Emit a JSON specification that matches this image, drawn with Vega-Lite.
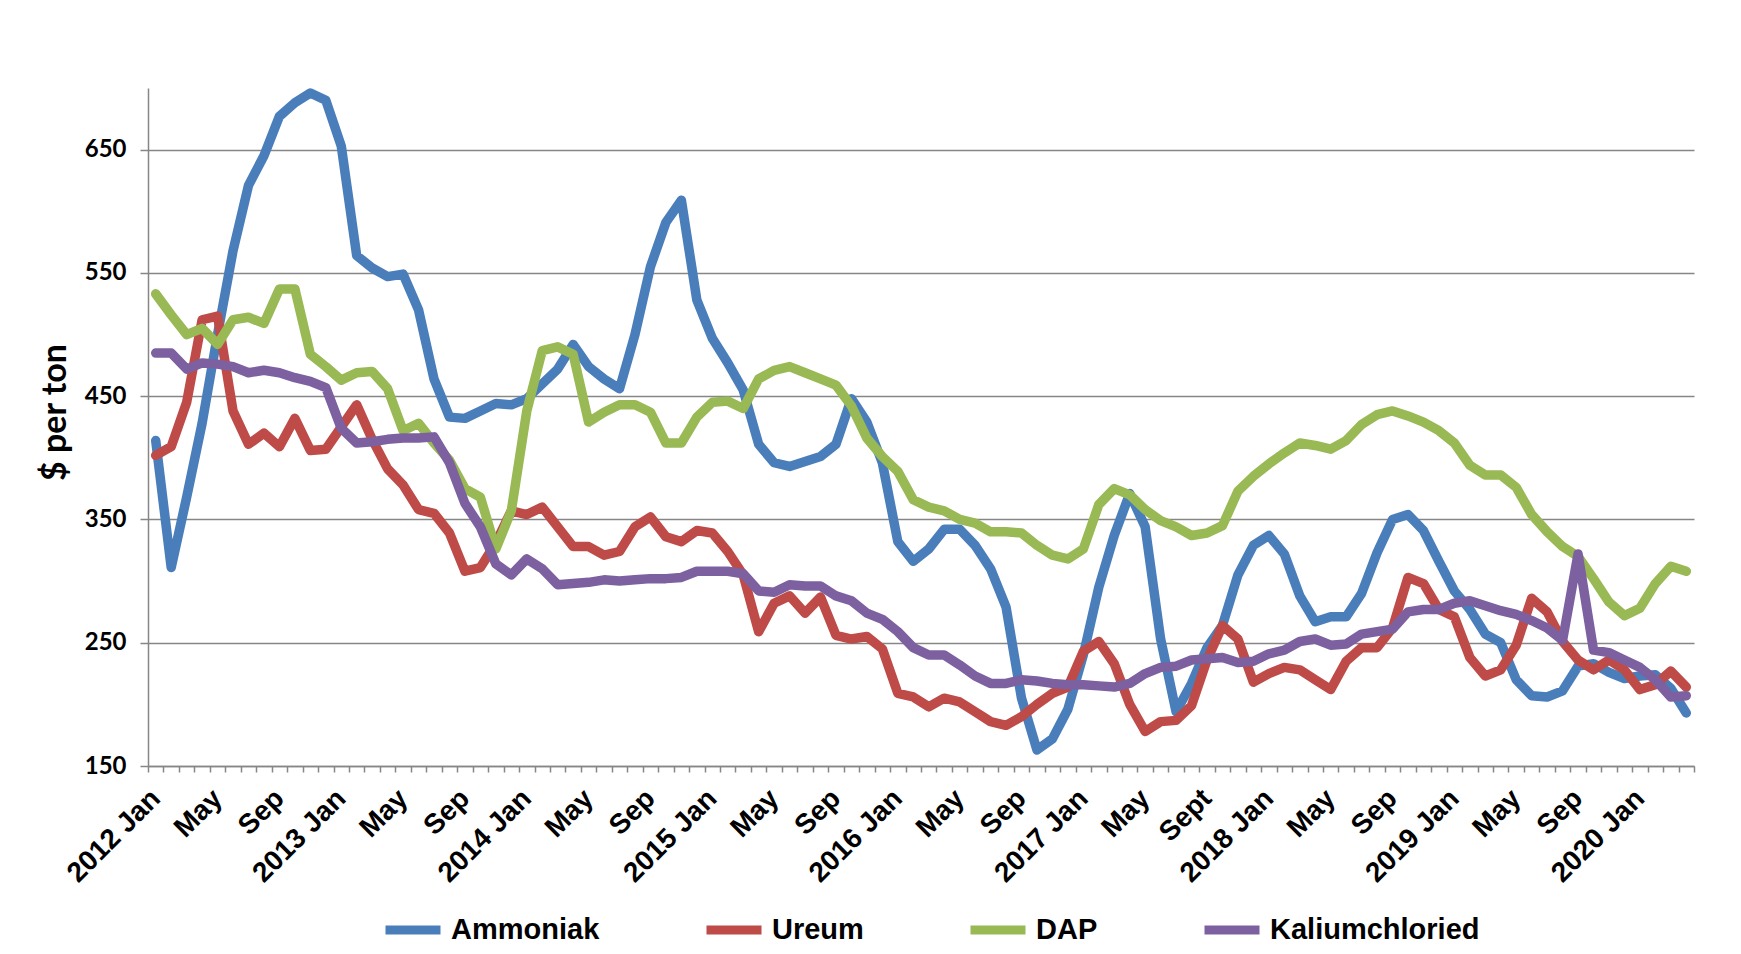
{
"$schema":"https://vega.github.io/schema/vega-lite/v6.json",
"width":1546,"height":678,
"autosize":{"type":"none"},
"padding":{"left":148,"top":88,"right":47,"bottom":188},
"background":"white",
"data":{"values":[
{"month":0,"product":"Ammoniak","price":414},{"month":1,"product":"Ammoniak","price":311},{"month":2,"product":"Ammoniak","price":368},{"month":3,"product":"Ammoniak","price":428},{"month":4,"product":"Ammoniak","price":500},{"month":5,"product":"Ammoniak","price":568},{"month":6,"product":"Ammoniak","price":621},{"month":7,"product":"Ammoniak","price":645},{"month":8,"product":"Ammoniak","price":677},{"month":9,"product":"Ammoniak","price":688},
{"month":10,"product":"Ammoniak","price":696},{"month":11,"product":"Ammoniak","price":690},{"month":12,"product":"Ammoniak","price":653},{"month":13,"product":"Ammoniak","price":564},{"month":14,"product":"Ammoniak","price":554},{"month":15,"product":"Ammoniak","price":547},{"month":16,"product":"Ammoniak","price":549},{"month":17,"product":"Ammoniak","price":520},{"month":18,"product":"Ammoniak","price":464},{"month":19,"product":"Ammoniak","price":433},
{"month":20,"product":"Ammoniak","price":432},{"month":21,"product":"Ammoniak","price":438},{"month":22,"product":"Ammoniak","price":444},{"month":23,"product":"Ammoniak","price":443},{"month":24,"product":"Ammoniak","price":448},{"month":25,"product":"Ammoniak","price":460},{"month":26,"product":"Ammoniak","price":472},{"month":27,"product":"Ammoniak","price":492},{"month":28,"product":"Ammoniak","price":474},{"month":29,"product":"Ammoniak","price":464},
{"month":30,"product":"Ammoniak","price":456},{"month":31,"product":"Ammoniak","price":500},{"month":32,"product":"Ammoniak","price":555},{"month":33,"product":"Ammoniak","price":591},{"month":34,"product":"Ammoniak","price":609},{"month":35,"product":"Ammoniak","price":528},{"month":36,"product":"Ammoniak","price":497},{"month":37,"product":"Ammoniak","price":477},{"month":38,"product":"Ammoniak","price":455},{"month":39,"product":"Ammoniak","price":411},
{"month":40,"product":"Ammoniak","price":396},{"month":41,"product":"Ammoniak","price":393},{"month":42,"product":"Ammoniak","price":397},{"month":43,"product":"Ammoniak","price":401},{"month":44,"product":"Ammoniak","price":411},{"month":45,"product":"Ammoniak","price":448},{"month":46,"product":"Ammoniak","price":429},{"month":47,"product":"Ammoniak","price":396},{"month":48,"product":"Ammoniak","price":332},{"month":49,"product":"Ammoniak","price":316},
{"month":50,"product":"Ammoniak","price":326},{"month":51,"product":"Ammoniak","price":342},{"month":52,"product":"Ammoniak","price":342},{"month":53,"product":"Ammoniak","price":329},{"month":54,"product":"Ammoniak","price":310},{"month":55,"product":"Ammoniak","price":279},{"month":56,"product":"Ammoniak","price":205},{"month":57,"product":"Ammoniak","price":163},{"month":58,"product":"Ammoniak","price":172},{"month":59,"product":"Ammoniak","price":196},
{"month":60,"product":"Ammoniak","price":240},{"month":61,"product":"Ammoniak","price":295},{"month":62,"product":"Ammoniak","price":337},{"month":63,"product":"Ammoniak","price":371},{"month":64,"product":"Ammoniak","price":344},{"month":65,"product":"Ammoniak","price":253},{"month":66,"product":"Ammoniak","price":194},{"month":67,"product":"Ammoniak","price":217},{"month":68,"product":"Ammoniak","price":246},{"month":69,"product":"Ammoniak","price":264},
{"month":70,"product":"Ammoniak","price":305},{"month":71,"product":"Ammoniak","price":329},{"month":72,"product":"Ammoniak","price":337},{"month":73,"product":"Ammoniak","price":322},{"month":74,"product":"Ammoniak","price":288},{"month":75,"product":"Ammoniak","price":267},{"month":76,"product":"Ammoniak","price":271},{"month":77,"product":"Ammoniak","price":271},{"month":78,"product":"Ammoniak","price":290},{"month":79,"product":"Ammoniak","price":323},
{"month":80,"product":"Ammoniak","price":350},{"month":81,"product":"Ammoniak","price":354},{"month":82,"product":"Ammoniak","price":341},{"month":83,"product":"Ammoniak","price":316},{"month":84,"product":"Ammoniak","price":292},{"month":85,"product":"Ammoniak","price":277},{"month":86,"product":"Ammoniak","price":257},{"month":87,"product":"Ammoniak","price":250},{"month":88,"product":"Ammoniak","price":220},{"month":89,"product":"Ammoniak","price":207},
{"month":90,"product":"Ammoniak","price":206},{"month":91,"product":"Ammoniak","price":211},{"month":92,"product":"Ammoniak","price":231},{"month":93,"product":"Ammoniak","price":233},{"month":94,"product":"Ammoniak","price":226},{"month":95,"product":"Ammoniak","price":221},{"month":96,"product":"Ammoniak","price":223},{"month":97,"product":"Ammoniak","price":224},{"month":98,"product":"Ammoniak","price":213},{"month":99,"product":"Ammoniak","price":193},
{"month":0,"product":"Ureum","price":402},{"month":1,"product":"Ureum","price":409},{"month":2,"product":"Ureum","price":445},{"month":3,"product":"Ureum","price":512},{"month":4,"product":"Ureum","price":515},{"month":5,"product":"Ureum","price":438},{"month":6,"product":"Ureum","price":411},{"month":7,"product":"Ureum","price":420},{"month":8,"product":"Ureum","price":409},{"month":9,"product":"Ureum","price":432},
{"month":10,"product":"Ureum","price":406},{"month":11,"product":"Ureum","price":407},{"month":12,"product":"Ureum","price":425},{"month":13,"product":"Ureum","price":443},{"month":14,"product":"Ureum","price":415},{"month":15,"product":"Ureum","price":391},{"month":16,"product":"Ureum","price":378},{"month":17,"product":"Ureum","price":358},{"month":18,"product":"Ureum","price":355},{"month":19,"product":"Ureum","price":339},
{"month":20,"product":"Ureum","price":308},{"month":21,"product":"Ureum","price":311},{"month":22,"product":"Ureum","price":331},{"month":23,"product":"Ureum","price":357},{"month":24,"product":"Ureum","price":354},{"month":25,"product":"Ureum","price":360},{"month":26,"product":"Ureum","price":344},{"month":27,"product":"Ureum","price":328},{"month":28,"product":"Ureum","price":328},{"month":29,"product":"Ureum","price":321},
{"month":30,"product":"Ureum","price":324},{"month":31,"product":"Ureum","price":344},{"month":32,"product":"Ureum","price":352},{"month":33,"product":"Ureum","price":336},{"month":34,"product":"Ureum","price":332},{"month":35,"product":"Ureum","price":341},{"month":36,"product":"Ureum","price":339},{"month":37,"product":"Ureum","price":324},{"month":38,"product":"Ureum","price":305},{"month":39,"product":"Ureum","price":259},
{"month":40,"product":"Ureum","price":282},{"month":41,"product":"Ureum","price":288},{"month":42,"product":"Ureum","price":274},{"month":43,"product":"Ureum","price":287},{"month":44,"product":"Ureum","price":256},{"month":45,"product":"Ureum","price":253},{"month":46,"product":"Ureum","price":255},{"month":47,"product":"Ureum","price":245},{"month":48,"product":"Ureum","price":209},{"month":49,"product":"Ureum","price":206},
{"month":50,"product":"Ureum","price":198},{"month":51,"product":"Ureum","price":205},{"month":52,"product":"Ureum","price":202},{"month":53,"product":"Ureum","price":194},{"month":54,"product":"Ureum","price":186},{"month":55,"product":"Ureum","price":183},{"month":56,"product":"Ureum","price":190},{"month":57,"product":"Ureum","price":200},{"month":58,"product":"Ureum","price":209},{"month":59,"product":"Ureum","price":214},
{"month":60,"product":"Ureum","price":243},{"month":61,"product":"Ureum","price":251},{"month":62,"product":"Ureum","price":233},{"month":63,"product":"Ureum","price":200},{"month":64,"product":"Ureum","price":178},{"month":65,"product":"Ureum","price":186},{"month":66,"product":"Ureum","price":187},{"month":67,"product":"Ureum","price":199},{"month":68,"product":"Ureum","price":236},{"month":69,"product":"Ureum","price":264},
{"month":70,"product":"Ureum","price":253},{"month":71,"product":"Ureum","price":218},{"month":72,"product":"Ureum","price":225},{"month":73,"product":"Ureum","price":230},{"month":74,"product":"Ureum","price":228},{"month":75,"product":"Ureum","price":220},{"month":76,"product":"Ureum","price":212},{"month":77,"product":"Ureum","price":235},{"month":78,"product":"Ureum","price":246},{"month":79,"product":"Ureum","price":246},
{"month":80,"product":"Ureum","price":262},{"month":81,"product":"Ureum","price":303},{"month":82,"product":"Ureum","price":298},{"month":83,"product":"Ureum","price":277},{"month":84,"product":"Ureum","price":271},{"month":85,"product":"Ureum","price":238},{"month":86,"product":"Ureum","price":223},{"month":87,"product":"Ureum","price":228},{"month":88,"product":"Ureum","price":248},{"month":89,"product":"Ureum","price":286},
{"month":90,"product":"Ureum","price":275},{"month":91,"product":"Ureum","price":251},{"month":92,"product":"Ureum","price":236},{"month":93,"product":"Ureum","price":228},{"month":94,"product":"Ureum","price":236},{"month":95,"product":"Ureum","price":228},{"month":96,"product":"Ureum","price":212},{"month":97,"product":"Ureum","price":216},{"month":98,"product":"Ureum","price":227},{"month":99,"product":"Ureum","price":214},
{"month":0,"product":"DAP","price":533},{"month":1,"product":"DAP","price":516},{"month":2,"product":"DAP","price":500},{"month":3,"product":"DAP","price":505},{"month":4,"product":"DAP","price":492},{"month":5,"product":"DAP","price":512},{"month":6,"product":"DAP","price":514},{"month":7,"product":"DAP","price":509},{"month":8,"product":"DAP","price":537},{"month":9,"product":"DAP","price":537},
{"month":10,"product":"DAP","price":484},{"month":11,"product":"DAP","price":474},{"month":12,"product":"DAP","price":463},{"month":13,"product":"DAP","price":469},{"month":14,"product":"DAP","price":470},{"month":15,"product":"DAP","price":456},{"month":16,"product":"DAP","price":422},{"month":17,"product":"DAP","price":428},{"month":18,"product":"DAP","price":412},{"month":19,"product":"DAP","price":398},
{"month":20,"product":"DAP","price":375},{"month":21,"product":"DAP","price":368},{"month":22,"product":"DAP","price":326},{"month":23,"product":"DAP","price":357},{"month":24,"product":"DAP","price":438},{"month":25,"product":"DAP","price":487},{"month":26,"product":"DAP","price":490},{"month":27,"product":"DAP","price":484},{"month":28,"product":"DAP","price":429},{"month":29,"product":"DAP","price":437},
{"month":30,"product":"DAP","price":443},{"month":31,"product":"DAP","price":443},{"month":32,"product":"DAP","price":437},{"month":33,"product":"DAP","price":412},{"month":34,"product":"DAP","price":412},{"month":35,"product":"DAP","price":433},{"month":36,"product":"DAP","price":445},{"month":37,"product":"DAP","price":446},{"month":38,"product":"DAP","price":440},{"month":39,"product":"DAP","price":464},
{"month":40,"product":"DAP","price":471},{"month":41,"product":"DAP","price":474},{"month":42,"product":"DAP","price":469},{"month":43,"product":"DAP","price":464},{"month":44,"product":"DAP","price":459},{"month":45,"product":"DAP","price":442},{"month":46,"product":"DAP","price":416},{"month":47,"product":"DAP","price":401},{"month":48,"product":"DAP","price":389},{"month":49,"product":"DAP","price":366},
{"month":50,"product":"DAP","price":360},{"month":51,"product":"DAP","price":357},{"month":52,"product":"DAP","price":350},{"month":53,"product":"DAP","price":347},{"month":54,"product":"DAP","price":340},{"month":55,"product":"DAP","price":340},{"month":56,"product":"DAP","price":339},{"month":57,"product":"DAP","price":329},{"month":58,"product":"DAP","price":321},{"month":59,"product":"DAP","price":318},
{"month":60,"product":"DAP","price":326},{"month":61,"product":"DAP","price":362},{"month":62,"product":"DAP","price":375},{"month":63,"product":"DAP","price":370},{"month":64,"product":"DAP","price":358},{"month":65,"product":"DAP","price":349},{"month":66,"product":"DAP","price":344},{"month":67,"product":"DAP","price":337},{"month":68,"product":"DAP","price":339},{"month":69,"product":"DAP","price":345},
{"month":70,"product":"DAP","price":373},{"month":71,"product":"DAP","price":385},{"month":72,"product":"DAP","price":395},{"month":73,"product":"DAP","price":404},{"month":74,"product":"DAP","price":412},{"month":75,"product":"DAP","price":410},{"month":76,"product":"DAP","price":407},{"month":77,"product":"DAP","price":414},{"month":78,"product":"DAP","price":427},{"month":79,"product":"DAP","price":435},
{"month":80,"product":"DAP","price":438},{"month":81,"product":"DAP","price":434},{"month":82,"product":"DAP","price":429},{"month":83,"product":"DAP","price":422},{"month":84,"product":"DAP","price":412},{"month":85,"product":"DAP","price":394},{"month":86,"product":"DAP","price":386},{"month":87,"product":"DAP","price":386},{"month":88,"product":"DAP","price":376},{"month":89,"product":"DAP","price":354},
{"month":90,"product":"DAP","price":340},{"month":91,"product":"DAP","price":328},{"month":92,"product":"DAP","price":320},{"month":93,"product":"DAP","price":302},{"month":94,"product":"DAP","price":283},{"month":95,"product":"DAP","price":272},{"month":96,"product":"DAP","price":278},{"month":97,"product":"DAP","price":298},{"month":98,"product":"DAP","price":312},{"month":99,"product":"DAP","price":308},
{"month":0,"product":"Kaliumchloried","price":485},{"month":1,"product":"Kaliumchloried","price":485},{"month":2,"product":"Kaliumchloried","price":472},{"month":3,"product":"Kaliumchloried","price":477},{"month":4,"product":"Kaliumchloried","price":476},{"month":5,"product":"Kaliumchloried","price":474},{"month":6,"product":"Kaliumchloried","price":469},{"month":7,"product":"Kaliumchloried","price":471},{"month":8,"product":"Kaliumchloried","price":469},{"month":9,"product":"Kaliumchloried","price":465},
{"month":10,"product":"Kaliumchloried","price":462},{"month":11,"product":"Kaliumchloried","price":457},{"month":12,"product":"Kaliumchloried","price":424},{"month":13,"product":"Kaliumchloried","price":412},{"month":14,"product":"Kaliumchloried","price":413},{"month":15,"product":"Kaliumchloried","price":415},{"month":16,"product":"Kaliumchloried","price":416},{"month":17,"product":"Kaliumchloried","price":416},{"month":18,"product":"Kaliumchloried","price":417},{"month":19,"product":"Kaliumchloried","price":396},
{"month":20,"product":"Kaliumchloried","price":363},{"month":21,"product":"Kaliumchloried","price":344},{"month":22,"product":"Kaliumchloried","price":314},{"month":23,"product":"Kaliumchloried","price":305},{"month":24,"product":"Kaliumchloried","price":318},{"month":25,"product":"Kaliumchloried","price":310},{"month":26,"product":"Kaliumchloried","price":297},{"month":27,"product":"Kaliumchloried","price":298},{"month":28,"product":"Kaliumchloried","price":299},{"month":29,"product":"Kaliumchloried","price":301},
{"month":30,"product":"Kaliumchloried","price":300},{"month":31,"product":"Kaliumchloried","price":301},{"month":32,"product":"Kaliumchloried","price":302},{"month":33,"product":"Kaliumchloried","price":302},{"month":34,"product":"Kaliumchloried","price":303},{"month":35,"product":"Kaliumchloried","price":308},{"month":36,"product":"Kaliumchloried","price":308},{"month":37,"product":"Kaliumchloried","price":308},{"month":38,"product":"Kaliumchloried","price":306},{"month":39,"product":"Kaliumchloried","price":292},
{"month":40,"product":"Kaliumchloried","price":291},{"month":41,"product":"Kaliumchloried","price":297},{"month":42,"product":"Kaliumchloried","price":296},{"month":43,"product":"Kaliumchloried","price":296},{"month":44,"product":"Kaliumchloried","price":288},{"month":45,"product":"Kaliumchloried","price":284},{"month":46,"product":"Kaliumchloried","price":274},{"month":47,"product":"Kaliumchloried","price":269},{"month":48,"product":"Kaliumchloried","price":259},{"month":49,"product":"Kaliumchloried","price":246},
{"month":50,"product":"Kaliumchloried","price":240},{"month":51,"product":"Kaliumchloried","price":240},{"month":52,"product":"Kaliumchloried","price":232},{"month":53,"product":"Kaliumchloried","price":223},{"month":54,"product":"Kaliumchloried","price":217},{"month":55,"product":"Kaliumchloried","price":217},{"month":56,"product":"Kaliumchloried","price":220},{"month":57,"product":"Kaliumchloried","price":219},{"month":58,"product":"Kaliumchloried","price":217},{"month":59,"product":"Kaliumchloried","price":216},
{"month":60,"product":"Kaliumchloried","price":216},{"month":61,"product":"Kaliumchloried","price":215},{"month":62,"product":"Kaliumchloried","price":214},{"month":63,"product":"Kaliumchloried","price":217},{"month":64,"product":"Kaliumchloried","price":225},{"month":65,"product":"Kaliumchloried","price":230},{"month":66,"product":"Kaliumchloried","price":231},{"month":67,"product":"Kaliumchloried","price":236},{"month":68,"product":"Kaliumchloried","price":237},{"month":69,"product":"Kaliumchloried","price":238},
{"month":70,"product":"Kaliumchloried","price":234},{"month":71,"product":"Kaliumchloried","price":235},{"month":72,"product":"Kaliumchloried","price":241},{"month":73,"product":"Kaliumchloried","price":244},{"month":74,"product":"Kaliumchloried","price":251},{"month":75,"product":"Kaliumchloried","price":253},{"month":76,"product":"Kaliumchloried","price":248},{"month":77,"product":"Kaliumchloried","price":249},{"month":78,"product":"Kaliumchloried","price":257},{"month":79,"product":"Kaliumchloried","price":259},
{"month":80,"product":"Kaliumchloried","price":261},{"month":81,"product":"Kaliumchloried","price":275},{"month":82,"product":"Kaliumchloried","price":277},{"month":83,"product":"Kaliumchloried","price":277},{"month":84,"product":"Kaliumchloried","price":282},{"month":85,"product":"Kaliumchloried","price":284},{"month":86,"product":"Kaliumchloried","price":280},{"month":87,"product":"Kaliumchloried","price":276},{"month":88,"product":"Kaliumchloried","price":273},{"month":89,"product":"Kaliumchloried","price":268},
{"month":90,"product":"Kaliumchloried","price":262},{"month":91,"product":"Kaliumchloried","price":252},{"month":92,"product":"Kaliumchloried","price":322},{"month":93,"product":"Kaliumchloried","price":244},{"month":94,"product":"Kaliumchloried","price":242},{"month":95,"product":"Kaliumchloried","price":236},{"month":96,"product":"Kaliumchloried","price":230},{"month":97,"product":"Kaliumchloried","price":220},{"month":98,"product":"Kaliumchloried","price":206},{"month":99,"product":"Kaliumchloried","price":207}
]},
"mark":{"type":"line","strokeWidth":9.5,"strokeJoin":"round","strokeCap":"round"},
"encoding":{
"x":{"field":"month","type":"ordinal","bandPosition":0.5,
 "scale":{"type":"band","paddingInner":0,"paddingOuter":0},
 "axis":{"title":null,"tickBand":"extent","grid":false,
  "labelExpr":"datum.value % 4 == 0 ? ['2012 Jan','May','Sep','2013 Jan','May','Sep','2014 Jan','May','Sep','2015 Jan','May','Sep','2016 Jan','May','Sep','2017 Jan','May','Sept','2018 Jan','May','Sep','2019 Jan','May','Sep','2020 Jan'][datum.value / 4] : ''",
  "labelAngle":-45,"labelAlign":"right","labelBaseline":"middle","labelOverlap":false,"labelPadding":22,
  "labelFont":"Liberation Sans","labelFontWeight":"bold","labelFontSize":28,"labelColor":"#000000",
  "domainColor":"#868686","domainWidth":1.5,"tickColor":"#868686","tickWidth":1.5,"tickSize":6}},
"y":{"field":"price","type":"quantitative",
 "scale":{"domain":[150,700],"nice":false,"zero":false},
 "axis":{"title":"$ per ton","values":[150,250,350,450,550,650],
  "grid":true,"gridColor":"#868686","gridWidth":1.5,
  "domainColor":"#868686","domainWidth":1.5,"tickColor":"#868686","tickWidth":1.5,"tickSize":8,
  "labelFont":"Lato","labelFontWeight":"bold","labelFontSize":24,"labelColor":"#000000","labelPadding":14,
  "titleFont":"Lato","titleFontWeight":"bold","titleFontSize":34,"titleColor":"#000000","titlePadding":12,"titleY":324}},
"color":{"field":"product","type":"nominal",
 "scale":{"domain":["Ammoniak","Ureum","DAP","Kaliumchloried"],"range":["#4A7EBB","#BE4B48","#98B954","#7D60A0"]},
 "legend":{"title":null,"orient":"none","legendX":233,"legendY":810,"direction":"horizontal",
  "symbolType":"stroke","symbolStrokeWidth":9,"symbolSize":3025,"labelOffset":6,"columnPadding":88,"padding":0,"labelLimit":0,
  "labelFont":"Liberation Sans","labelFontWeight":"bold","labelFontSize":29,"labelColor":"#000000"}}
},
"config":{"view":{"stroke":null}}
}
